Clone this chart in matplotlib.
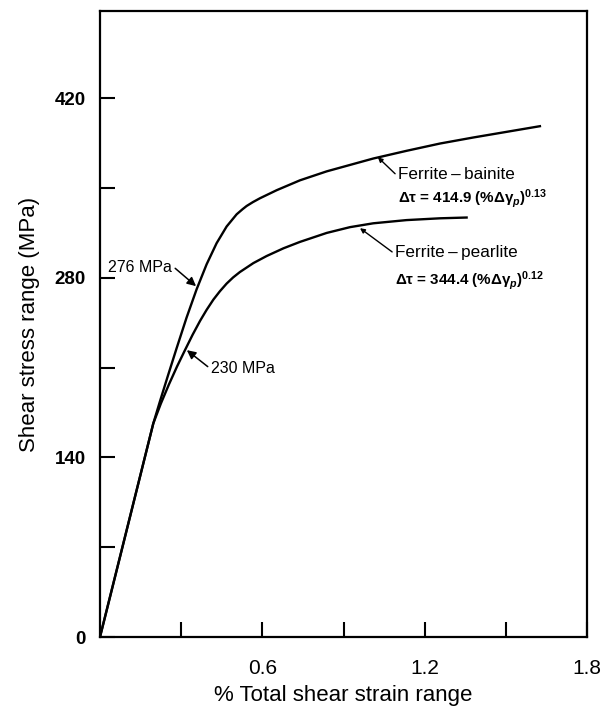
import matplotlib
matplotlib.use("Agg")
import matplotlib.pyplot as plt
from matplotlib.ticker import FixedLocator

plt.rcParams['font.family'] = ['Liberation Sans', 'DejaVu Sans']
plt.rcParams['mathtext.fontset'] = 'custom'
plt.rcParams['mathtext.rm'] = 'Liberation Sans:bold'
plt.rcParams['mathtext.it'] = 'Liberation Sans:bold:italic'
plt.rcParams['mathtext.bf'] = 'Liberation Sans:bold'

# ---- data ----
bainite_x = [0, 0.197, 0.222, 0.25, 0.283, 0.320, 0.357, 0.394, 0.431, 0.468,
             0.505, 0.527, 0.542, 0.565, 0.591, 0.653, 0.739, 0.838, 0.924,
             1.010, 1.133, 1.257, 1.380, 1.503, 1.626]
bainite_y = [0, 166.5, 184, 203, 225, 249, 271, 290.5, 307, 320,
             329.5, 333.5, 336, 339, 342, 348.3, 356, 363, 368,
             373, 379, 384.7, 389.4, 393.8, 398.2]
pearlite_x = [0, 0.197, 0.225, 0.255, 0.285, 0.314, 0.342, 0.370, 0.394, 0.419,
              0.443, 0.468, 0.492, 0.517, 0.567, 0.616, 0.678, 0.739, 0.838,
              0.924, 1.010, 1.133, 1.257, 1.355]
pearlite_y = [0, 166.5, 182, 197, 211, 223.6, 235.5, 246.5, 255, 263,
              269.5, 275.5, 280.3, 284.5, 291.5, 297, 303, 308, 315,
              319.5, 322.5, 325, 326.4, 327]

x_major = [0.6, 1.2, 1.8]
x_major_labels = ['0.6', '1.2', '1.8']
x_minor = [0.3, 0.9, 1.5]
y_major = [0, 140, 280, 420]
y_major_labels = ['0', '140', '280', '420']
y_minor = [70, 210, 350]

fig = plt.figure(figsize=(6.03, 7.12), dpi=100)
ax = fig.add_axes([100/603, 1-637/712, 487/603, 626/712])

ax.plot(bainite_x, bainite_y, color='black', lw=1.7, solid_joinstyle='round')
ax.plot(pearlite_x, pearlite_y, color='black', lw=1.7, solid_joinstyle='round')

ax.set_xlim(0, 1.8)
ax.set_ylim(0, 488)

ax.xaxis.set_major_locator(FixedLocator(x_major))
ax.set_xticklabels(x_major_labels)
ax.xaxis.set_minor_locator(FixedLocator(x_minor))
ax.yaxis.set_major_locator(FixedLocator(y_major))
ax.set_yticklabels(y_major_labels, fontweight='bold')
ax.yaxis.set_minor_locator(FixedLocator(y_minor))

ax.tick_params(which='both', direction='in', length=11, width=1.5, labelsize=13.5)
ax.tick_params(axis='x', pad=16, labelsize=15)
ax.tick_params(axis='y', pad=10)
for s in ax.spines.values():
    s.set_linewidth(1.6)

ax.set_xlabel('% Total shear strain range', fontsize=16, labelpad=5)
ax.set_ylabel('Shear stress range (MPa)', fontsize=16, labelpad=11)

ap = dict(arrowstyle='-|>', color='black', lw=1.1, mutation_scale=13, shrinkA=0, shrinkB=0)
ax.annotate('276 MPa', xy=(0.355, 273.5), xytext=(0.03, 288), fontsize=11.5,
            va='center', ha='left', arrowprops=dict(ap, relpos=(1.05, 0.45)))
ax.annotate('230 MPa', xy=(0.321, 223.6), xytext=(0.41, 209.6), fontsize=11.5,
            va='center', ha='left', arrowprops=dict(ap, relpos=(-0.05, 0.6)))

sp = dict(arrowstyle='-|>', color='black', lw=1.0, mutation_scale=7, shrinkA=0, shrinkB=0)
ax.annotate('Ferrite\u2009\u2013\u2009bainite', xy=(1.027, 374), xytext=(1.101, 360.8),
            fontsize=12.3, va='center', ha='left', arrowprops=dict(sp, relpos=(-0.02, 0.5)))
ax.text(1.101, 342, 'Δτ = 414.9 (%Δγ$_{p}$)$^{0.13}$', fontsize=10.9,
        va='center', ha='left', fontweight='bold')
ax.annotate('Ferrite\u2009\u2013\u2009pearlite', xy=(0.961, 318.7), xytext=(1.09, 300),
            fontsize=12.3, va='center', ha='left', arrowprops=dict(sp, relpos=(-0.02, 0.5)))
ax.text(1.09, 278, 'Δτ = 344.4 (%Δγ$_{p}$)$^{0.12}$', fontsize=10.9,
        va='center', ha='left', fontweight='bold')

fig.savefig('out.png', dpi=100)
